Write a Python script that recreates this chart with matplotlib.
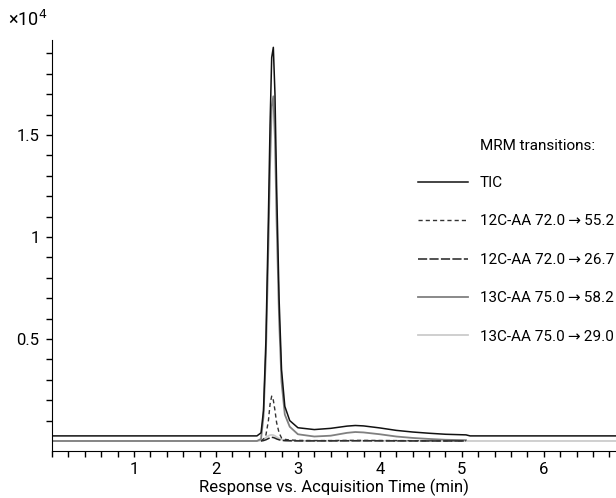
import numpy as np
import matplotlib
matplotlib.use("Agg")
import matplotlib.pyplot as plt
from matplotlib.ticker import MultipleLocator, FixedLocator, FuncFormatter

plt.rcParams['font.family'] = ['Roboto', 'DejaVu Sans']
plt.rcParams['font.size'] = 11

nan = np.nan

# acquisition time (min)
time = [0.0, 2.50, 2.55, 2.58, 2.61, 2.64, 2.66, 2.68, 2.70, 2.72, 2.74, 2.77,
        2.80, 2.84, 2.90, 3.00, 3.20, 3.40, 3.60, 3.70, 3.80, 4.00, 4.20, 4.40,
        4.60, 4.80, 5.05, 5.10, 6.90]

# responses (counts)
tic = [250, 250, 400, 1500, 5000, 11000, 15500, 18800, 19300, 17000, 12500, 7000,
       3500, 1700, 1000, 650, 560, 620, 730, 760, 740, 640, 520, 440,
       380, 330, 300, 250, 250]
c12_552 = [nan, nan, 0, 100, 300, 1000, 1800, 2200, 2000, 1500, 900, 400,
           150, 80, 50, 30, 20, 20, 30, 30, 30, 25, 20, 15,
           10, 10, 10, nan, nan]
c12_267 = [nan, nan, 0, 20, 60, 120, 160, 180, 170, 140, 100, 60,
           30, 15, 10, 5, 5, 5, 8, 8, 8, 6, 5, 3,
           2, 2, 2, nan, nan]
c13_582 = [0, 0, 100, 1200, 4300, 9600, 13500, 16400, 16900, 14800, 10800, 6000,
           2900, 1300, 700, 330, 220, 260, 400, 440, 420, 330, 220, 150,
           100, 60, 40, nan, nan]
c13_290 = [0, 0, 20, 80, 170, 250, 290, 300, 290, 250, 200, 130,
           80, 40, 20, 10, 10, 12, 15, 15, 15, 12, 10, 8,
           5, 3, 2, 0, 0]

arr = '\u2009→\u2009'
labels = ['TIC', f'12C-AA 72.0{arr}55.2', f'12C-AA 72.0{arr}26.7',
          f'13C-AA 75.0{arr}58.2', f'13C-AA 75.0{arr}29.0']

fig = plt.figure(figsize=(6.16, 4.98), dpi=100)
ax = fig.add_axes([0.0844, 0.0944, 0.9156, 0.8253])

ax.plot(time, c13_290, color='#cccccc', lw=1.3, label=labels[4])
ax.plot(time, c13_582, color='#808080', lw=1.3, label=labels[3])
ax.plot(time, c12_267, color='#222222', lw=1.1, dashes=(6, 1.5), label=labels[2])
ax.plot(time, c12_552, color='#333333', lw=1.0, dashes=(3, 2.2), label=labels[1])
ax.plot(time, tic, color='#111111', lw=1.1, label=labels[0])

ax.set_xlim(0, 6.88)
ax.set_ylim(-490, 19660)

for s in ['top', 'right']:
    ax.spines[s].set_visible(False)

ax.xaxis.set_major_locator(FixedLocator([1, 2, 3, 4, 5, 6]))
ax.xaxis.set_minor_locator(MultipleLocator(0.2))
ax.yaxis.set_major_locator(FixedLocator([5000, 10000, 15000]))
ax.yaxis.set_minor_locator(FixedLocator(np.arange(1000, 20000, 1000)))
ax.yaxis.set_major_formatter(FuncFormatter(lambda v, p: f'{v / 1e4:g}'))
ax.tick_params(which='both', direction='out', length=4, width=1, labelsize=12)
ax.tick_params(axis='x', pad=4)
ax.tick_params(axis='y', pad=5)

ax.set_xlabel('Response vs. Acquisition Time (min)', labelpad=1, fontsize=12)
fig.text(8 / 616, 1 - 20 / 498, r'×10$^{4}$', va='center', ha='left', fontsize=13)

handles, hl = ax.get_legend_handles_labels()
ax.legend(handles[::-1], hl[::-1], loc='upper left',
          bbox_to_anchor=(418 / 616, 1 - 176 / 498),
          bbox_transform=fig.transFigure, frameon=False, borderpad=0,
          borderaxespad=0, handlelength=3.3, handletextpad=0.75,
          labelspacing=1.6, fontsize=11)
fig.text(480 / 616, 1 - 146 / 498, 'MRM transitions:', va='center', ha='left',
         fontsize=11)

fig.savefig('out.png', dpi=100)
